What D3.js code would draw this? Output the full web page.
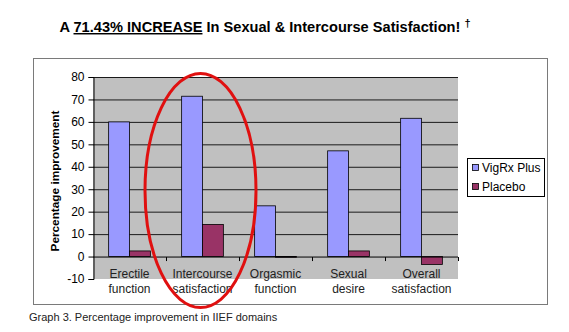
<!DOCTYPE html>
<html>
<head>
<meta charset="utf-8">
<script src="https://cdn.jsdelivr.net/npm/d3@7"></script>
<style>
  html, body { margin: 0; padding: 0; background: #fff; }
  svg { display: block; font-family: Arial, "Liberation Sans", sans-serif; }
</style>
</head>
<body>
<svg id="chart" width="569" height="332"></svg>
<script>
// IIEF domain results
const categories = [
  ["Erectile", "function"],
  ["Intercourse", "satisfaction"],
  ["Orgasmic", "function"],
  ["Sexual", "desire"],
  ["Overall", "satisfaction"]
];
const seriesNames = ["VigRx Plus", "Placebo"];
const vigrxValues = [60.0, 71.43, 22.6, 47.1, 61.6];
const placeboValues = [2.5, 14.3, -0.3, 2.5, -3.5];
const yTicks = [-10, 0, 10, 20, 30, 40, 50, 60, 70, 80];
const seriesColors = ["#9999ff", "#993366"];
const highlightIndex = 1;

const svg = d3.select("#chart");

// Title with underlined figure and dagger
const title = svg.append("text")
  .attr("x", 265).attr("y", 32)
  .attr("text-anchor", "middle")
  .attr("font-size", 14.6).attr("font-weight", "bold").attr("fill", "#000");
title.append("tspan").text("A ");
title.append("tspan").attr("text-decoration", "underline").text("71.43% INCREASE");
title.append("tspan").text(" In Sexual & Intercourse Satisfaction! ");
title.append("tspan").attr("font-size", 11).attr("dy", -5).text("\u2020");

// Chart frame
svg.append("rect")
  .attr("x", 33.5).attr("y", 58.5).attr("width", 514).attr("height", 246)
  .attr("fill", "#fff").attr("stroke", "#7a7a7a").attr("stroke-width", 1);

const plot = { left: 93, right: 458, top: 77, bottom: 279 };

const y = d3.scaleLinear().domain([-10, 80]).range([plot.bottom, plot.top]);
const x0 = d3.scaleBand().domain(d3.range(categories.length))
  .range([plot.left, plot.right]).paddingInner(0).paddingOuter(0);
// Excel-style gap width of 150% between clusters
const groupWidth = x0.bandwidth() * 2 / 3.5;
const x1 = d3.scaleBand().domain([0, 1]).range([0, groupWidth]).padding(0);

// Plot area background
svg.append("rect")
  .attr("x", plot.left).attr("y", plot.top)
  .attr("width", plot.right - plot.left).attr("height", plot.bottom - plot.top)
  .attr("fill", "#c0c0c0");

// Gridlines
svg.append("g").selectAll("line")
  .data(yTicks.filter(t => t > 0))
  .join("line")
  .attr("x1", plot.left).attr("x2", plot.right)
  .attr("y1", d => y(d) + 0.5).attr("y2", d => y(d) + 0.5)
  .attr("stroke", "#1a1a1a").attr("stroke-width", 1);

// Y axis
const yAxis = svg.append("g")
  .attr("transform", `translate(${plot.left + 0.5},0)`)
  .call(d3.axisLeft(y).tickValues(yTicks).tickSize(5).tickPadding(4)
    .tickFormat(d => String(d)));
yAxis.select(".domain").attr("stroke", "#000");
yAxis.selectAll(".tick line").attr("stroke", "#000");
yAxis.selectAll(".tick text")
  .attr("font-size", 12).attr("fill", "#000")
  .attr("font-family", "Arial, 'Liberation Sans', sans-serif");

// Bars
const groups = svg.append("g").selectAll("g")
  .data(categories.map((c, i) => ({ i, vals: [vigrxValues[i], placeboValues[i]] })))
  .join("g")
  .attr("transform", d => `translate(${x0(d.i) + (x0.bandwidth() - groupWidth) / 2},0)`);

groups.selectAll("rect")
  .data(d => d.vals.map((v, s) => ({ v, s })))
  .join("rect")
  .attr("x", d => x1(d.s))
  .attr("y", d => y(Math.max(0, d.v)))
  .attr("width", x1.bandwidth())
  .attr("height", d => Math.abs(y(d.v) - y(0)))
  .attr("fill", d => seriesColors[d.s])
  .attr("stroke", "#000").attr("stroke-width", 0.8);

// X axis along zero
const xAxisY = y(0) + 0.5;
svg.append("line")
  .attr("x1", plot.left).attr("x2", plot.right)
  .attr("y1", xAxisY).attr("y2", xAxisY)
  .attr("stroke", "#000");
svg.append("g").selectAll("line")
  .data(d3.range(1, categories.length + 1))
  .join("line")
  .attr("x1", d => x0.step() * d + plot.left + 0.5)
  .attr("x2", d => x0.step() * d + plot.left + 0.5)
  .attr("y1", xAxisY).attr("y2", xAxisY + 4)
  .attr("stroke", "#000");

// Category labels
const catLabels = svg.append("g").selectAll("text")
  .data(categories.map((c, i) => ({ c, i })))
  .join("text")
  .attr("text-anchor", "middle")
  .attr("font-size", 12).attr("fill", "#222");
catLabels.append("tspan")
  .attr("x", d => x0(d.i) + x0.bandwidth() / 2).attr("y", 278)
  .text(d => d.c[0]);
catLabels.append("tspan")
  .attr("x", d => x0(d.i) + x0.bandwidth() / 2).attr("y", 293)
  .text(d => d.c[1]);

// Y axis title
svg.append("text")
  .attr("transform", "translate(59,181) rotate(-90)")
  .attr("text-anchor", "middle")
  .attr("font-size", 11.8).attr("font-weight", "bold").attr("fill", "#000")
  .text("Percentage improvement");

// Legend
const legend = svg.append("g").attr("transform", "translate(467,158)");
legend.append("rect")
  .attr("x", 0.5).attr("y", 0.5).attr("width", 77).attr("height", 38)
  .attr("fill", "#fff").attr("stroke", "#000");
seriesNames.forEach((name, s) => {
  const ly = 10 + s * 19;
  legend.append("rect")
    .attr("x", 5.5).attr("y", ly - 3.5).attr("width", 6).attr("height", 6)
    .attr("fill", seriesColors[s]).attr("stroke", "#000").attr("stroke-width", 0.8);
  legend.append("text")
    .attr("x", 15).attr("y", ly + 4)
    .attr("font-size", 12).attr("fill", "#000")
    .text(name);
});

// Highlight ring around intercourse satisfaction
svg.append("ellipse")
  .attr("cx", x0(highlightIndex) + x0.bandwidth() / 2 - 2)
  .attr("cy", 190.5)
  .attr("rx", 55.5).attr("ry", 117)
  .attr("fill", "none")
  .attr("stroke", "#e01010").attr("stroke-width", 3);

// Caption
svg.append("text")
  .attr("x", 29).attr("y", 321)
  .attr("font-size", 11).attr("fill", "#222")
  .text("Graph 3. Percentage improvement in IIEF domains");
</script>
</body>
</html>
